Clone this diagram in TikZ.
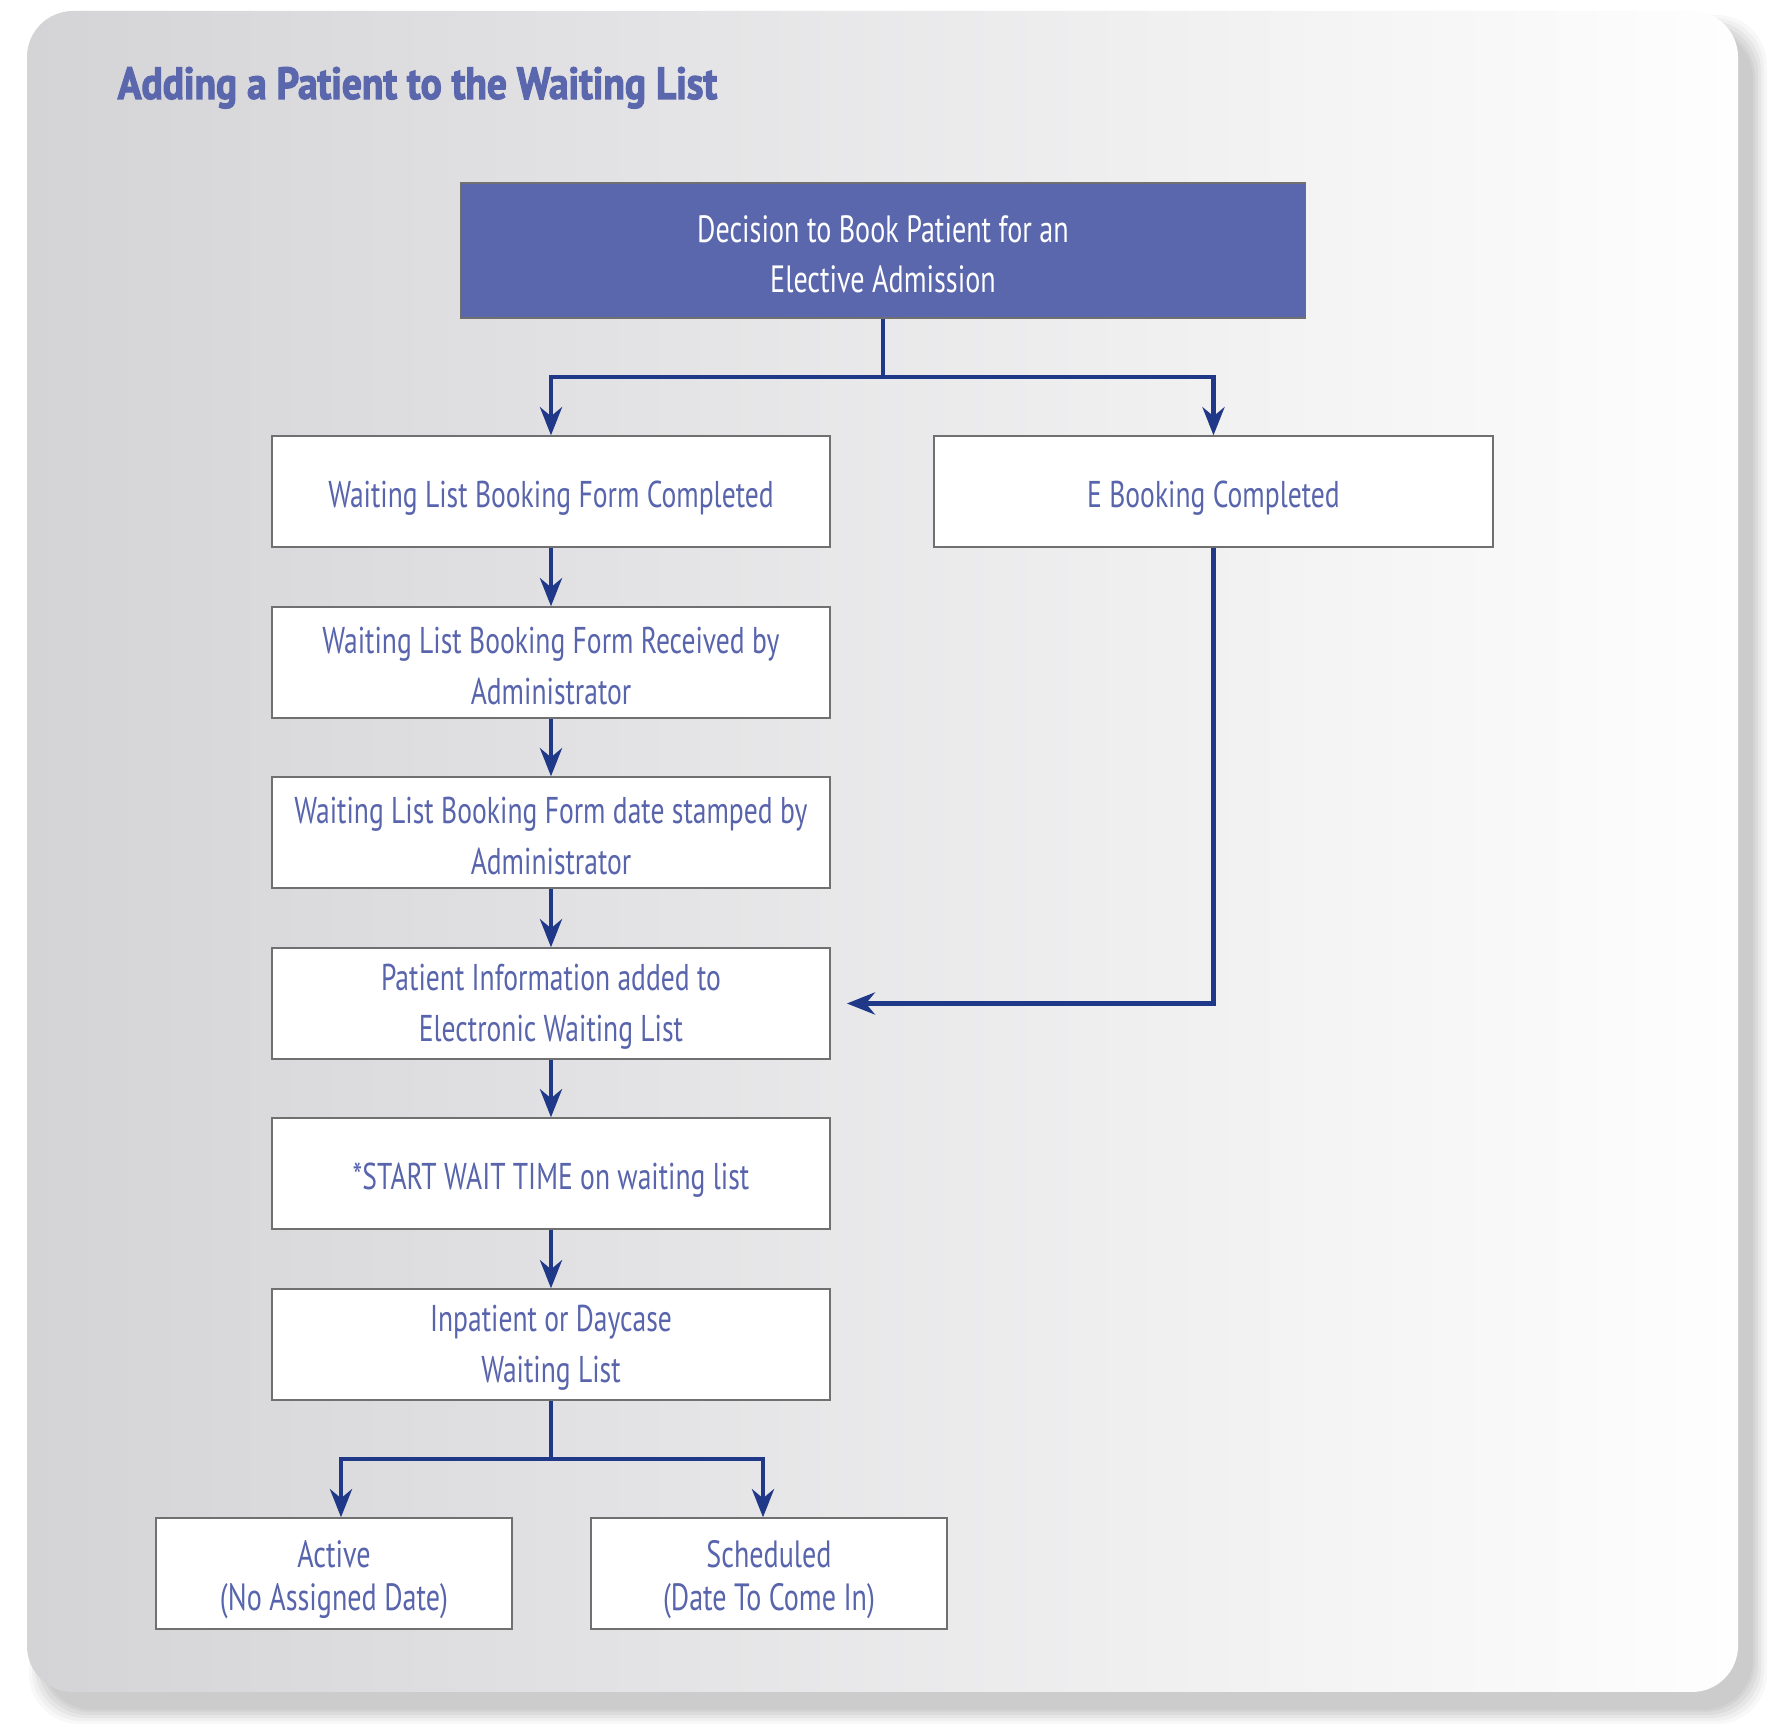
\documentclass[tikz,border=0pt]{standalone}
\usepackage{fontspec}
\usetikzlibrary{arrows.meta,calc}
\newfontfamily\boxfont{PT Sans}[FakeStretch=0.74]
\newfontfamily\titlefont{PT Sans}[FakeStretch=0.875,FakeBold=2.4]
\definecolor{navy}{RGB}{31,56,136}
\definecolor{lav}{RGB}{91,103,173}
\definecolor{txt}{RGB}{88,100,172}
\definecolor{bord}{RGB}{112,112,112}
\definecolor{bgL}{RGB}{212,212,215}
\definecolor{bgR}{RGB}{254,254,254}
\definecolor{shad}{RGB}{204,204,204}
\newcommand{\lowA}{\rule{0pt}{11.2pt}}
\newcommand{\lowB}{\rule{0pt}{9.6pt}}
\begin{document}
\begin{tikzpicture}[x=0.01cm,y=-0.01cm,
  flowbox/.style={draw=bord, line width=0.4pt, fill=white, minimum width=5.58cm,
    minimum height=1.11cm, inner sep=0pt, align=center, text=txt,
    font=\boxfont\fontsize{10.6}{14.5}\selectfont},
  topbox/.style={flowbox, fill=lav, text=white, minimum width=8.44cm, minimum height=1.35cm,
    font=\boxfont\fontsize{10.8}{14.2}\selectfont},
  smallbox/.style={flowbox, minimum width=3.56cm, font=\boxfont\fontsize{10.8}{12}\selectfont},
  link/.style={draw=navy, line width=1.35pt},
  arr/.style={link, -{Stealth[length=0.28cm,width=0.22cm,inset=0.09cm]}}]
\useasboundingbox (0,0) rectangle (1771,1728);
\fill[white] (0,0) rectangle (1771,1728);
% shadow
\foreach \e/\o in {14/0.12,11/0.18,8/0.25,5/0.35,2/0.5,0/1}{
  \fill[shad, opacity=\o, rounded corners=0.5cm]
    ({27+16-\e},{11+18-\e}) rectangle ({1738+15+\e},{1692+18+\e});
}
% card
\shade[left color=bgL, right color=bgR, rounded corners=0.46cm] (27,11) rectangle (1738,1692);
% title
\node[anchor=base west, inner sep=0pt, text=lav, font=\titlefont\bfseries\fontsize{12.8}{16}\selectfont]
  (title) at (117,99) {Adding a Patient to the Waiting List};
% nodes
\node[topbox] (top) at (883,250.5) {\lowB Decision to Book Patient for an\\Elective Admission};
\node[flowbox] (b1) at (551,491.5) {\lowA Waiting List Booking Form Completed};
\node[flowbox, minimum width=5.59cm] (eb) at (1213.5,491.5) {\lowA E Booking Completed};
\node[flowbox] (b2) at (551,662.5) {\lowB Waiting List Booking Form Received by\\Administrator};
\node[flowbox] (b3) at (551,832.5) {\lowB Waiting List Booking Form date stamped by\\Administrator};
\node[flowbox] (b4) at (551,1003.5) {\lowB Patient Information added to\\Electronic Waiting List};
\node[flowbox] (b5) at (551,1173.5) {\lowA *START WAIT TIME on waiting list};
\node[flowbox] (b6) at (551,1344.5) {\lowB Inpatient or Daycase\\Waiting List};
\node[smallbox] (act) at (334,1573.5) {\lowA Active\\(No Assigned Date)};
\node[smallbox] (sch) at (769,1573.5) {\lowA Scheduled\\(Date To Come In)};
% connectors
\coordinate (h1) at (0,377);
\coordinate (j1) at (top.south |- h1);
\draw[link] (top.south) -- (j1);
\draw[arr] (j1) -| (b1.north);
\draw[arr] (j1) -| (eb.north);
\draw[arr] (b1) -- (b2);
\draw[arr] (b2) -- (b3);
\draw[arr] (b3) -- (b4);
\draw[arr] (b4) -- (b5);
\draw[arr] (b5) -- (b6);
\draw[arr, shorten >=0.16cm] (eb.south) |- (b4.east);
\coordinate (h3) at (0,1459);
\coordinate (j3) at (b6.south |- h3);
\draw[link] (b6.south) -- (j3);
\draw[arr] (j3) -| ([xshift=0.07cm]act.north);
\draw[arr] (j3) -| ([xshift=-0.06cm]sch.north);
\end{tikzpicture}
\end{document}
